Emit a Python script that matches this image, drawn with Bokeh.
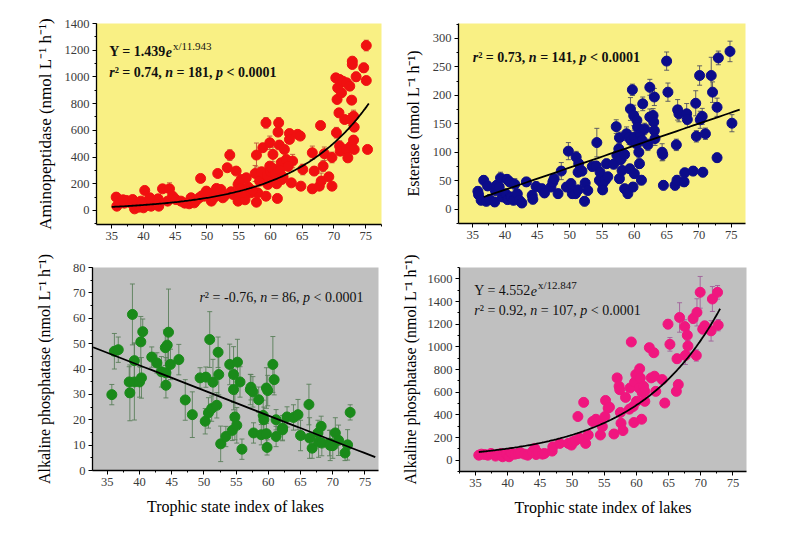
import numpy as np
from bokeh.plotting import figure
from bokeh.layouts import column, row
from bokeh.models import Label, SingleIntervalTicker, Range1d
from bokeh.embed import file_html
from bokeh.resources import INLINE

FONT = "Liberation Serif"

# ---------------- Panel A: Aminopeptidase ----------------
amp_x = [35.7, 35.8, 36.5, 37.3, 38.0, 38.6, 38.3, 39.1, 39.6, 40.2, 40.0, 40.4, 40.9, 41.2, 41.7, 42.4, 42.3,
         43.0, 44.1, 43.8, 44.6, 45.1, 45.9, 47.2, 47.5, 48.0, 49.0, 48.8, 49.6, 49.9, 50.7, 50.9, 51.7, 51.7,
         52.2, 52.5, 53.2, 53.6, 54.1, 54.6, 54.9, 54.9, 55.4, 55.7, 55.9, 56.2, 56.9, 57.6, 57.8, 57.8, 58.0,
         58.3, 58.8, 59.1, 59.3, 59.3, 59.6, 59.9, 59.9, 60.1, 60.4, 60.6, 60.9, 61.1, 61.2, 61.3, 61.4, 61.7,
         61.8, 62.2, 62.5, 63.0, 63.0, 63.3, 63.5, 64.3, 64.7, 64.8, 65.1, 66.6, 66.6, 66.9, 67.7, 67.9, 68.0,
         68.3, 68.5, 69.2, 69.7, 69.7, 70.3, 70.4, 70.5, 70.6, 70.8, 70.9, 70.9, 71.0, 71.2, 71.4, 71.7, 72.0,
         72.0, 72.2, 72.5, 72.6, 72.7, 72.8, 72.9, 72.9, 73.1, 73.1, 73.2, 73.2, 73.5, 74.7, 75.1, 75.1, 75.3,
         36.2, 37.0, 38.8, 39.3, 40.6, 41.5, 42.0, 36.8, 39.8, 41.0, 46.5, 48.3, 49.2, 50.3, 51.2, 51.5, 52.8,
         53.8, 55.1, 55.3, 56.5, 58.6, 59.5, 60.0, 60.3, 60.8, 61.0, 61.5, 62.0, 62.8, 56.0, 55.5, 57.2]
amp_y = [100, 32, 70, 75, 57, 12, 82, 45, 70, 150, 20, 57, 75, 32, 70, 32, 87,
         162, 162, 70, 107, 82, 70, 50, 95, 57, 240, 95, 107, 145, 70, 120, 277, 145,
         157, 95, 320, 415, 120, 295, 195, 70, 232, 107, 157, 245, 132, 277, 415, 62, 132,
         220, 470, 270, 656, 107, 195, 507, 332, 257, 420, 307, 232, 90, 587, 656, 490, 357,
         232, 457, 382, 576, 532, 207, 370, 570, 557, 182, 307, 432, 162, 295, 182, 636, 220,
         332, 425, 252, 397, 182, 993, 582, 831, 918, 731, 981, 482, 444, 881, 968, 681, 956,
         457, 394, 931, 681, 482, 826, 1118, 1093, 706, 527, 624, 457, 1001, 1068, 1235, 973, 457,
         60, 55, 35, 25, 40, 50, 45, 80, 45, 95, 55, 75, 110, 130, 100, 165, 110,
         140, 210, 165, 175, 290, 260, 290, 315, 275, 200, 300, 250, 330, 80, 130, 150]
amp_err = [15, 10, 15, 15, 10, 10, 15, 10, 10, 20, 10, 10, 10, 10, 10, 10, 15,
           20, 45, 10, 20, 15, 10, 10, 15, 10, 20, 15, 15, 20, 15, 15, 20, 15,
           20, 15, 20, 40, 15, 20, 20, 15, 20, 15, 20, 20, 20, 60, 90, 15, 20,
           30, 30, 40, 40, 15, 30, 50, 30, 30, 55, 30, 30, 15, 30, 40, 30, 30,
           25, 30, 30, 30, 30, 25, 50, 20, 20, 25, 40, 50, 30, 30, 25, 30, 60,
           40, 50, 30, 40, 20, 30, 40, 30, 30, 30, 30, 40, 30, 30, 30, 30, 30,
           30, 30, 30, 45, 30, 30, 30, 30, 45, 30, 30, 30, 35, 35, 40, 30, 20,
           10, 10, 10, 10, 10, 10, 10, 10, 10, 15, 10, 15, 15, 20, 15, 20, 15,
           20, 20, 20, 20, 30, 30, 30, 30, 30, 30, 30, 30, 30, 15, 15, 20]
amp_fit_a, amp_fit_b = 1.439, 11.943
amp_fit_range = (35.0, 75.5)

# ---------------- Panel B: Esterase ----------------
est_x = [35.8, 35.9, 36.3, 36.7, 37.1, 37.3, 37.6, 38.4, 38.5, 38.7, 39.1, 39.3, 39.6, 40.1, 40.3, 40.4,
         40.7, 40.9, 41.3, 41.5, 41.9, 42.2, 42.6, 43.3, 44.2, 44.3, 44.8, 45.7, 46.1, 47.1, 47.4, 47.6,
         48.2, 48.7, 49.5, 49.8, 50.2, 50.4, 50.9, 51.0, 51.3, 51.4, 51.3, 51.9, 52.3, 52.4, 52.8, 53.5,
         54.1, 54.2, 54.6, 54.7, 55.1, 55.1, 55.5, 55.7, 55.9, 56.8, 57.2, 57.3, 57.6, 57.7, 57.7, 57.9,
         58.1, 58.5, 58.5, 58.8, 59.0, 59.2, 59.3, 59.4, 59.5, 59.7, 59.8, 59.9, 60.0, 60.0, 60.3, 60.4,
         60.5, 60.7, 60.8, 60.9, 61.1, 61.2, 61.3, 61.6, 62.1, 62.4, 62.4, 62.9, 63.0, 63.1, 63.1, 63.2,
         64.3, 64.4, 64.5, 65.0, 65.2, 66.3, 66.5, 66.6, 66.7, 66.9, 67.7, 67.8, 68.1, 68.2, 69.1, 69.5,
         69.6, 70.1, 70.2, 70.5, 70.6, 71.0, 71.9, 72.1, 72.8, 72.8, 73.0, 74.8, 75.1]
est_y = [31.5, 25.7, 15.8, 50.8, 14, 40.9, 17, 12.8, 33, 42, 39, 55, 21.6, 27, 52.5, 17,
         48, 21.6, 15.8, 43.8, 27, 15.8, 11, 48, 24.5, 17.5, 40, 36, 28.6, 39, 48, 53.7,
         27.4, 67, 39, 102, 45, 27.4, 27.4, 91.6, 65, 80, 34, 67, 14, 46, 33, 75,
         76, 117, 51, 65, 45, 34, 51, 80, 57, 79, 145, 94.6, 106, 125.5, 53.7, 87,
         68, 96, 36, 132.5, 27.4, 125.5, 71, 176, 121, 209.6, 39, 164.6, 126.7, 62.5, 115, 156,
         144, 100, 80, 132.5, 51, 121, 185, 141, 113, 214, 162, 164.6, 153, 197, 138, 124,
         100, 96, 42, 260, 205.5, 42, 113, 51, 174.5, 167.5, 48, 64, 167.5, 157.6, 67, 186,
         128, 234.7, 157, 163, 65, 132.5, 234.7, 205.5, 90.5, 179, 265.6, 277, 151]
est_err = [8, 8, 8, 8, 8, 8, 8, 8, 8, 8, 8, 10, 8, 8, 8, 8,
           8, 8, 8, 10, 8, 8, 8, 8, 8, 8, 8, 8, 8, 8, 8, 8,
           8, 15, 8, 15, 8, 8, 8, 10, 8, 10, 8, 8, 8, 8, 8, 8,
           8, 25, 8, 8, 8, 8, 8, 8, 8, 8, 12, 10, 10, 10, 8, 8,
           8, 10, 8, 12, 8, 12, 8, 20, 10, 10, 8, 18, 12, 8, 12, 15,
           12, 10, 8, 12, 8, 10, 12, 10, 10, 14, 14, 12, 12, 15, 12, 12,
           15, 10, 8, 16, 16, 8, 10, 8, 18, 14, 8, 8, 18, 14, 8, 22,
           10, 17, 15, 14, 8, 10, 32, 18, 8, 16, 12, 18, 15]
est_fit_slope, est_fit_icpt = 3.87, -120.5
est_fit_range = (36.7, 76.3)

# ---------------- Panel C: Alkaline phosphatase (decreasing) ----------------
alp_x = [35.7, 36.1, 36.7, 38.4, 38.5, 38.9, 39.2, 39.2, 40.0, 40.2, 40.3, 40.5, 41.9, 42.7, 43.4, 44.0,
         44.3, 44.1, 44.1, 44.5, 44.8, 46.1, 47.1, 48.2, 49.4, 50.2, 50.3, 50.7, 50.9, 51.2, 51.4, 52.0,
         52.2, 52.3, 52.6, 53.4, 54.0, 54.4, 54.6, 54.6, 54.8, 55.1, 55.2, 55.6, 55.9, 57.2, 57.3, 57.6,
         57.7, 58.5, 58.9, 59.2, 59.3, 59.7, 59.7, 59.8, 59.9, 60.7, 60.9, 61.2, 61.2, 62.2, 62.2, 62.9,
         63.9, 64.6, 65.0, 66.3, 66.4, 66.8, 67.7, 67.8, 68.2, 68.3, 69.5, 69.6, 70.0, 70.4, 70.9, 71.9,
         72.3, 72.7]
alp_y = [29.9, 47.0, 47.6, 34.9, 30.6, 61.5, 43.3, 34.9, 34.9, 50.7, 36.5, 54.7, 44.7, 42.4, 38.9, 48.4,
         49.4, 38.5, 33.6, 54.5, 41.8, 43.7, 27.8, 22.0, 36.5, 19.4, 36.8, 22.7, 51.6, 24.4, 34.8, 25.7,
         46.6, 37.8, 10.5, 13.4, 41.8, 15.8, 37.8, 31.9, 21.1, 17.8, 42.7, 34.9, 8.4, 31.9, 32.8, 31.0,
         14.8, 27.9, 14.1, 21.7, 20.0, 14.5, 32.5, 9.1, 31.5, 41.8, 35.8, 13.4, 20.0, 16.7, 16.0, 21.1,
         20.9, 22.0, 13.8, 26.0, 12.8, 8.8, 14.8, 11.2, 17.4, 10.8, 10.8, 9.9, 9.8, 14.8, 11.9, 6.9,
         10.1, 22.9]
alp_err = [4, 7, 5, 6, 11, 12, 7, 15, 6, 10, 8, 5, 4, 4, 6, 7,
           6, 6, 5, 17, 6, 6, 8, 9, 4, 5, 4, 6, 11, 5, 9, 5,
           6, 8, 7, 4, 8, 4, 11, 8, 9, 7, 9, 6, 4, 6, 5, 6,
           4, 5, 4, 6, 5, 4, 8, 3, 6, 11, 6, 4, 4, 5, 4, 4,
           5, 6, 6, 8, 8, 4, 5, 6, 4, 5, 5, 6, 5, 6, 6, 3,
           6, 3]
alp_fit_slope, alp_fit_icpt = -0.989, 81.0
alp_fit_range = (32.8, 76.6)

# ---------------- Panel D: Alkaline phosphatase (increasing) ----------------
alp2_x = [35.5, 35.9, 36.4, 36.9, 37.4, 38.1, 38.5, 39.0, 39.2, 39.8, 40.2, 40.5, 41.1, 41.6, 42.0, 42.6,
          43.1, 43.8, 44.2, 44.4, 44.7, 45.4, 45.7, 46.9, 47.0, 48.1, 49.4, 49.9, 50.1, 50.5, 50.9, 51.2,
          51.8, 52.1, 52.5, 53.2, 53.7, 54.0, 54.4, 54.7, 55.1, 55.2, 55.6, 55.8, 56.5, 57.0, 57.3, 57.4,
          57.5, 57.6, 57.9, 58.3, 58.9, 59.2, 59.0, 59.5, 59.6, 59.7, 59.9, 60.0, 60.2, 60.4, 60.5, 60.6,
          60.8, 60.9, 61.1, 61.3, 61.3, 62.0, 62.3, 62.7, 62.8, 63.0, 64.0, 64.4, 64.9, 65.2, 66.2, 66.3,
          66.5, 66.7, 67.5, 67.6, 67.9, 68.0, 68.8, 69.3, 69.4, 69.9, 70.3, 70.6, 71.6, 71.8, 72.6, 72.7]
alp2_y = [44, 53, 50, 44, 59, 36, 53, 59, 30, 53, 30, 65, 53, 59, 65, 53,
          44, 74, 104, 50, 65, 53, 59, 80, 118, 148, 148, 133, 163, 172, 385, 193,
          510, 148, 222, 341, 361, 341, 222, 296, 385, 527, 459, 468, 231, 726, 652, 622,
          421, 326, 261, 554, 450, 1043, 637, 474, 332, 687, 756, 519, 747, 637, 806, 726,
          361, 593, 652, 607, 519, 993, 726, 948, 741, 607, 711, 504, 1200, 1022, 607, 895,
          667, 1259, 1179, 924, 1102, 1007, 1250, 924, 1304, 1481, 1156, 1185, 1141, 1422, 1481, 1191]
alp2_err = [15, 15, 15, 15, 15, 15, 15, 15, 15, 15, 15, 15, 15, 15, 15, 15,
            15, 15, 20, 15, 15, 15, 15, 20, 20, 20, 20, 20, 20, 20, 25, 20,
            25, 20, 25, 25, 25, 25, 25, 25, 25, 25, 25, 25, 25, 30, 30, 30,
            30, 30, 30, 30, 30, 30, 30, 30, 30, 30, 30, 30, 30, 30, 40, 30,
            30, 30, 30, 30, 30, 30, 30, 30, 30, 30, 30, 30, 40, 60, 30, 40,
            40, 130, 60, 80, 50, 50, 40, 50, 120, 140, 40, 40, 90, 110, 60, 50]
alp2_fit_a, alp2_fit_b = 4.552, 12.847
alp2_fit_range = (35.5, 73.0)

YLAB_A = "Aminopeptidase (nmol L\u207b\u00b9 h\u207b\u00b9)"
YLAB_B = "Esterase (nmol L\u207b\u00b9 h\u207b\u00b9)"
YLAB_C = "Alkaline phosphatase (nmol L\u207b\u00b9 h\u207b\u00b9)"
XLAB = "Trophic state index of lakes"

# Times-compatible advance widths (per 1000 em) used to place mixed-style text runs
_W_REG = {" ": 250, ",": 250, ".": 250, "-": 333, "=": 564, "<": 564, "\u00b2": 300, "Y": 722, "e": 444,
          "r": 333, "n": 500, "p": 500, "/": 278, "x": 500}
_W_BOLD = {" ": 250, ",": 250, ".": 250, "-": 333, "=": 570, "<": 570, "\u00b2": 300, "Y": 722, "e": 444,
           "r": 444, "n": 556, "p": 556, "/": 278, "x": 500}
_W_IT = {"r": 389, "n": 500, "p": 500, "e": 444}
_W_BIT = {"r": 389, "n": 556, "p": 500, "e": 444}


def _width(s, bold, italic, px):
    if italic:
        table = _W_BIT if bold else _W_IT
    else:
        table = _W_BOLD if bold else _W_REG
    total = 0
    for ch in s:
        total += table.get(ch, 500)
    return total * px / 1000.0


def add_runs(p, x, y, runs, px=14, bold=True, x0=0, y_off=0):
    """runs: list of (text, italic) pieces set one after another on a line."""
    off = x0
    for txt, it in runs:
        lead = len(txt) - len(txt.lstrip(" "))
        off += _width(" " * lead, bold, it, px)
        core = txt.strip(" ")
        style = ("bold " if bold else "") + ("italic" if it else "")
        style = style.strip() or "normal"
        p.add_layout(Label(x=x, y=y, text=core, text_font=FONT, text_font_size=f"{px}px",
                           text_font_style=style, text_baseline="middle", text_align="left",
                           x_offset=off, y_offset=y_off, text_color="#111111"))
        off += _width(txt.lstrip(" "), bold, it, px)
    return off


def stats_runs(r2, n, pval):
    return [("r", True), (f"\u00b2 = {r2}, ", False), ("n", True), (f" = {n}, ", False),
            ("p", True), (f" < {pval}", False)]


def make_panel(x, y, err, color, ecolor, bg, xr, yr, yint, ylabel, xlabel,
               fw, fh, bl, br, bt, bb, ylab_size, ylab_standoff):
    p = figure(frame_width=fw, frame_height=fh, output_backend="svg", toolbar_location=None,
               x_range=Range1d(*xr), y_range=Range1d(*yr),
               min_border_left=bl, min_border_right=br, min_border_top=bt, min_border_bottom=bb)
    p.background_fill_color = bg
    p.border_fill_color = "white"
    p.outline_line_color = None
    p.grid.visible = False
    p.xaxis.ticker = SingleIntervalTicker(interval=5, num_minor_ticks=2)
    p.yaxis.ticker = SingleIntervalTicker(interval=yint, num_minor_ticks=2)
    for ax in (p.xaxis[0], p.yaxis[0]):
        ax.axis_line_color = "black"
        ax.axis_line_width = 1.3
        ax.major_tick_line_color = "black"
        ax.minor_tick_line_color = "black"
        ax.major_tick_in = 0
        ax.major_tick_out = 4
        ax.minor_tick_in = 0
        ax.minor_tick_out = 2
        ax.major_label_text_font = FONT
        ax.major_label_text_font_size = "12.5px"
        ax.major_label_text_color = "#3a3a3a"
        ax.major_label_standoff = 3
        ax.axis_label_text_font = FONT
        ax.axis_label_text_font_style = "normal"
        ax.axis_label_text_color = "black"
    p.yaxis.axis_label = ylabel
    p.yaxis.axis_label_text_font_size = ylab_size
    p.yaxis.axis_label_standoff = ylab_standoff
    if xlabel:
        p.xaxis.axis_label = xlabel
        p.xaxis.axis_label_text_font_size = "16px"
        p.xaxis.axis_label_standoff = 9

    xa = np.array(x, dtype=float)
    ya = np.array(y, dtype=float)
    ea = np.array(err, dtype=float)
    p.segment(x0=xa, y0=ya - ea, x1=xa, y1=ya + ea, line_color=ecolor, line_width=0.9)
    p.scatter(xa, ya + ea, marker="dash", size=5, line_color=ecolor, line_width=0.9)
    p.scatter(xa, ya - ea, marker="dash", size=5, line_color=ecolor, line_width=0.9)
    p.scatter(xa, ya, marker="circle", size=10, fill_color=color, line_color=color)
    return p


YELLOW = "#f9f084"
GRAY = "#c0c0c0"

# Panel A
pA = make_panel(amp_x, amp_y, amp_err, "#f01010", "#c0503a", YELLOW, (32.6, 77.5), (-105, 1400), 200,
                YLAB_A, None, 285, 201, 96, 12, 23, 24, "17px", 7)
fx = np.linspace(*amp_fit_range, 200)
pA.line(fx, amp_fit_a * np.exp(fx / amp_fit_b), line_color="black", line_width=1.8)
end = add_runs(pA, 34.6, 1190, [(f"Y = {amp_fit_a}", False), ("e", True)], px=14, bold=True)
add_runs(pA, 34.6, 1190, [(f"x/{amp_fit_b}", False)], px=11, bold=False, x0=end + 1, y_off=6)
add_runs(pA, 34.6, 1033, stats_runs("0.74", 181, "0.0001"), px=14, bold=True)

# Panel B
pB = make_panel(est_x, est_y, est_err, "#0c0c8a", "#505060", YELLOW, (32.8, 77.2), (-25, 326), 50,
                YLAB_B, None, 287, 200, 65, 20, 22, 26, "16px", 8)
fx = np.linspace(*est_fit_range, 50)
pB.line(fx, est_fit_slope * fx + est_fit_icpt, line_color="black", line_width=1.8)
add_runs(pB, 35.0, 266, stats_runs("0.73", 141, "0.0001"), px=14, bold=True)

# Panel C
pC = make_panel(alp_x, alp_y, alp_err, "#1a8a1a", "#5a7f5a", GRAY, (32.7, 77.1), (0, 80), 10,
                YLAB_C, XLAB, 286, 203, 92, 14, 18, 55, "16px", 17)
fx = np.linspace(*alp_fit_range, 50)
pC.line(fx, alp_fit_slope * fx + alp_fit_icpt, line_color="black", line_width=1.8)
add_runs(pC, 49.3, 68.1, stats_runs("-0.76", 86, "0.0001"), px=14, bold=False)

# Panel D
pD = make_panel(alp2_x, alp2_y, alp2_err, "#f0167f", "#a0609a", GRAY, (32.5, 77.1), (-100, 1700), 200,
                YLAB_C, XLAB, 287, 204, 67, 20, 19, 53, "16px", 6)
fx = np.linspace(*alp2_fit_range, 200)
pD.line(fx, alp2_fit_a * np.exp(fx / alp2_fit_b), line_color="black", line_width=1.8)
end = add_runs(pD, 34.8, 1496, [(f"Y = {alp2_fit_a}", False), ("e", True)], px=14, bold=False)
add_runs(pD, 34.8, 1496, [(f"x/{alp2_fit_b}", False)], px=11, bold=False, x0=end + 1, y_off=6)
add_runs(pD, 34.8, 1318, stats_runs("0.92", 107, "0.0001"), px=14, bold=False)

layout = column(row(pA, pB), row(pC, pD))
open("out.html", "w").write(file_html(layout, INLINE))
